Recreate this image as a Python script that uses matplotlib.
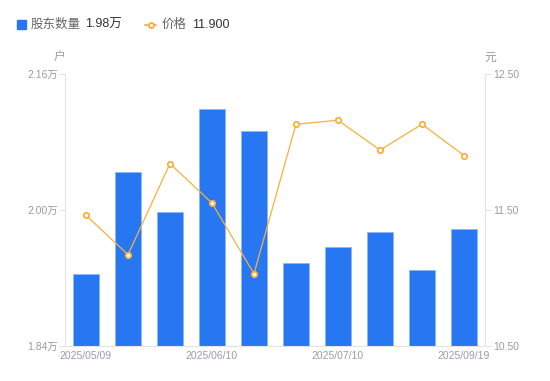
import matplotlib
matplotlib.use("Agg")
import matplotlib.pyplot as plt
from matplotlib.lines import Line2D

plt.rcParams['font.family'] = ['Liberation Sans', 'Noto Sans CJK SC', 'DejaVu Sans']

holders = [1.925, 2.044, 1.998, 2.119, 2.093, 1.937, 1.956, 1.974, 1.929, 1.977]  # 万户
price = [11.46, 11.17, 11.84, 11.55, 11.03, 12.13, 12.16, 11.94, 12.13, 11.90]
tick_pos = [0, 3, 6, 9]
tick_labels = ['2025/05/09', '2025/06/10', '2025/07/10', '2025/09/19']
left_ticks = [1.84, 2.00, 2.16]
right_ticks = [10.50, 11.50, 12.50]

W, H = 550, 381
fig = plt.figure(figsize=(W / 100, H / 100), dpi=100)
x0, x1, ytop, ybot = 65, 485, 74, 345.7
ax = fig.add_axes([x0 / W, (H - ybot) / H, (x1 - x0) / W, (ybot - ytop) / H])
ax2 = ax.twinx()

BLUE = '#2777F3'
ORANGE = '#F7B13C'
TICKC = '#9A9BAA'
AXC = '#E3E3E8'
CJK = ['Noto Sans CJK SC', 'DejaVu Sans']

xs = list(range(len(holders)))
ax.bar(xs, holders, width=0.6, color=BLUE, edgecolor='#8DB6F9', linewidth=0.6, zorder=2)
ax.set_xlim(-0.5, len(holders) - 0.5)
ax.set_ylim(1.84, 2.16)
ax.set_yticks(left_ticks)
ax.set_yticklabels([f'{v:.2f}万' for v in left_ticks])
ax.set_xticks(tick_pos)
ax.set_xticklabels(tick_labels)

ax2.plot(xs, price, color=ORANGE, linewidth=0.9, marker='o', markersize=3.9,
         markerfacecolor='white', markeredgecolor=ORANGE, markeredgewidth=1.3, zorder=3)
ax2.set_ylim(10.5, 12.5)
ax2.set_yticks(right_ticks)
ax2.set_yticklabels([f'{v:.2f}' for v in right_ticks])

for a in (ax, ax2):
    for s in a.spines.values():
        s.set_visible(False)
ax.spines['left'].set_visible(True)
ax.spines['left'].set_color(AXC)
ax.spines['bottom'].set_visible(True)
ax.spines['bottom'].set_color(AXC)
ax2.spines['right'].set_visible(True)
ax2.spines['right'].set_color(AXC)

ax.tick_params(axis='y', colors=AXC, labelcolor=TICKC, labelsize=7.5, length=4, width=0.8, pad=1)
ax.tick_params(axis='x', length=0, labelcolor=TICKC, labelsize=7.5, pad=4)
ax2.tick_params(axis='y', colors=AXC, labelcolor=TICKC, labelsize=7.5, length=4, width=0.8, pad=2)

fig.text(59 / W, 1 - 57 / H, '户', color=TICKC, fontsize=8.5, ha='center', va='center', family=CJK)
fig.text(490 / W, 1 - 57 / H, '元', color=TICKC, fontsize=8.5, ha='center', va='center', family=CJK)

# legend
fig.patches.append(plt.Rectangle((17 / W, 1 - 28.5 / H), 8.5 / W, 8.5 / H,
                                 transform=fig.transFigure, color=BLUE, figure=fig))
fig.text(31 / W, 1 - 24.5 / H, '股东数量', color='#666666', fontsize=9, va='center', family=CJK)
fig.text(85 / W, 1 - 24.5 / H, '1.98万', color='#333333', fontsize=9, va='center')
fig.lines.append(Line2D([145 / W, 156 / W], [1 - 24.5 / H, 1 - 24.5 / H], transform=fig.transFigure,
                        color=ORANGE, linewidth=1.2, figure=fig))
fig.lines.append(Line2D([150.5 / W], [1 - 24.5 / H], transform=fig.transFigure, linestyle='none',
                        marker='o', markersize=3.6, markerfacecolor='white',
                        markeredgecolor=ORANGE, markeredgewidth=1.4, figure=fig))
fig.text(162 / W, 1 - 24.5 / H, '价格', color='#666666', fontsize=9, va='center', family=CJK)
fig.text(192 / W, 1 - 24.5 / H, '11.900', color='#333333', fontsize=9, va='center')

fig.savefig('out.png', dpi=100)
